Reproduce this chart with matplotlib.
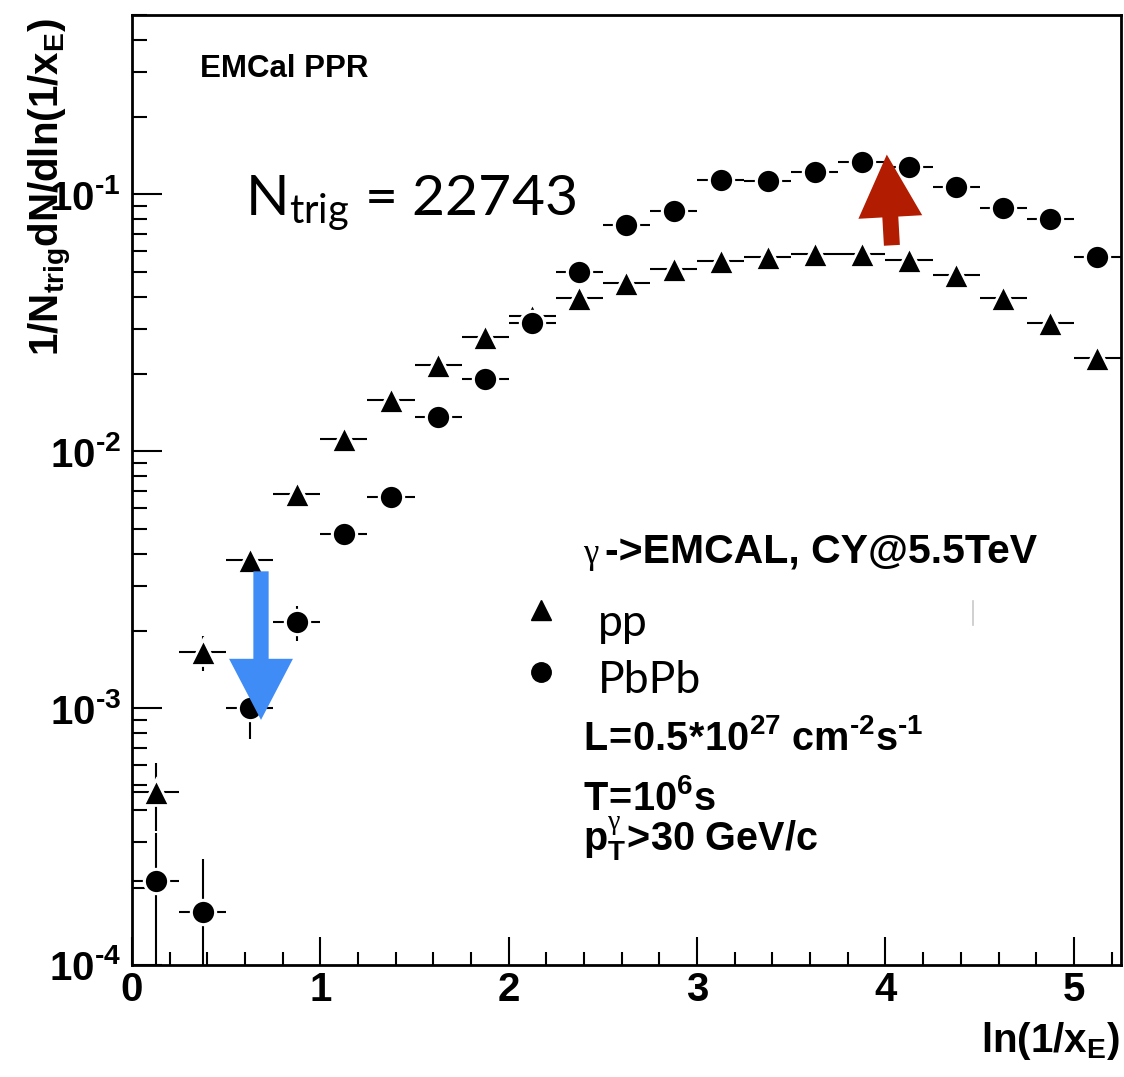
import matplotlib
matplotlib.use("Agg")
import matplotlib.pyplot as plt
from matplotlib.ticker import LogLocator, MultipleLocator, NullFormatter

plt.rcParams.update({
    "font.family": "Liberation Sans",
    "mathtext.fontset": "custom",
    "mathtext.rm": "Lato",
    "mathtext.bf": "Liberation Sans:bold",
    "mathtext.it": "Liberation Serif",
})

# bin centres in ln(1/x_E), bin width 0.25
ln_xe = [0.125, 0.375, 0.625, 0.875, 1.125, 1.375, 1.625, 1.875, 2.125, 2.375,
         2.625, 2.875, 3.125, 3.375, 3.625, 3.875, 4.125, 4.375, 4.625, 4.875, 5.125]
bin_half_width = 0.125

# 1/N_trig dN/dln(1/x_E) for pp
pp_vals = [4.71e-4, 1.65e-3, 3.77e-3, 6.8e-3, 1.12e-2, 1.59e-2, 2.16e-2, 2.78e-2,
           3.35e-2, 3.94e-2, 4.51e-2, 5.11e-2, 5.53e-2, 5.69e-2, 5.89e-2, 5.89e-2,
           5.58e-2, 4.84e-2, 3.97e-2, 3.15e-2, 2.30e-2]
pp_errs = [1.4e-4, 2.6e-4, 2.4e-4, 3.2e-4, 4.8e-4, 5.7e-4, 6.6e-4, 7.5e-4,
           8.2e-4, 8.9e-4, 9.5e-4, 1.0e-3, 1.05e-3, 1.07e-3, 1.09e-3, 1.09e-3,
           1.06e-3, 9.9e-4, 9.0e-4, 8.0e-4, 6.8e-4]

# same for PbPb
pbpb_vals = [2.12e-4, 1.61e-4, 1.0e-3, 2.16e-3, 4.75e-3, 6.62e-3, 1.355e-2, 1.92e-2,
             3.15e-2, 4.98e-2, 7.64e-2, 8.59e-2, 0.1143, 0.1124, 0.122, 0.1333,
             0.1285, 0.1074, 0.0882, 0.080, 0.0569]
pbpb_errs = [1.15e-4, 0.97e-4, 0.24e-3, 0.33e-3, 0.52e-3, 0.5e-3, 0.7e-3, 0.8e-3,
             1.0e-3, 1.2e-3, 1.5e-3, 1.6e-3, 1.9e-3, 1.9e-3, 2.0e-3, 2.1e-3,
             2.1e-3, 1.9e-3, 1.7e-3, 1.6e-3, 1.4e-3]

x_ticks = [0, 1, 2, 3, 4, 5]
x_tick_labels = ["0", "1", "2", "3", "4", "5"]
y_ticks = [1e-4, 1e-3, 1e-2, 1e-1]
# short hyphen (U+2010) instead of the long math minus
y_tick_labels = [r"$\mathbf{10^{‐4}}$", r"$\mathbf{10^{‐3}}$",
                 r"$\mathbf{10^{‐2}}$", r"$\mathbf{10^{‐1}}$"]

fig = plt.figure(figsize=(11.24, 10.77), dpi=100)
ax = fig.add_axes([0.1174, 0.1040, 0.8799, 0.8821])
ax.set_yscale("log")
ax.set_xlim(0, 5.25)
ax.set_ylim(1e-4, 0.5)

# pp: triangles, drawn first so the PbPb circles sit on top
ax.errorbar(ln_xe, pp_vals, xerr=bin_half_width, yerr=pp_errs, fmt="none",
            ecolor="black", elinewidth=1.5, capsize=0, zorder=2)
ax.plot(ln_xe, pp_vals, ls="none", marker="^", ms=18.5, mfc="black",
        mec="white", mew=2.0, zorder=3)
ax.errorbar(ln_xe, pbpb_vals, xerr=bin_half_width, yerr=pbpb_errs, fmt="none",
            ecolor="black", elinewidth=1.5, capsize=0, zorder=4)
ax.plot(ln_xe, pbpb_vals, ls="none", marker="o", ms=17.5, mfc="black",
        mec="white", mew=2.2, zorder=5)

# axes styling (ROOT-like: inward ticks, bold labels)
ax.set_xticks(x_ticks, x_tick_labels, fontsize=29, fontweight="bold")
ax.xaxis.set_minor_locator(MultipleLocator(0.2))
ax.set_yticks(y_ticks, y_tick_labels, fontsize=29)
ax.yaxis.set_minor_locator(LogLocator(base=10, subs=range(2, 10)))
ax.yaxis.set_minor_formatter(NullFormatter())
ax.tick_params(which="both", direction="in", width=1.5, top=False, right=False)
ax.tick_params(axis="x", which="major", length=20, pad=4)
ax.tick_params(axis="x", which="minor", length=9.5)
ax.tick_params(axis="y", which="major", length=21.5, pad=8)
ax.tick_params(axis="y", which="minor", length=11)
for sp in ax.spines.values():
    sp.set_linewidth(2.0)

fig.text(0.0445, 0.983, r"$\mathbf{1/N_{trig}dN/dln(1/x_{E})}$", rotation=90,
         ha="center", va="top", fontsize=29)
fig.text(0.9964, 0.0529, r"$\mathbf{ln(1/x_{E})}$", ha="right", va="top",
         fontsize=29)

# annotations
ax.text(0.0688, 0.9347, "EMCal PPR", transform=ax.transAxes, fontsize=22.5,
        fontweight="bold", va="baseline")
ax.text(0.1143, 0.7895, r"$\mathrm{N_{trig}}$ = 22743", transform=ax.transAxes,
        fontsize=41, family="Lato", va="baseline")

ax.text(0.456, 0.4232, "γ", transform=ax.transAxes, fontsize=25,
        family="Liberation Serif", va="baseline")
ax.text(0.478, 0.4232, "->EMCAL, CY@5.5TeV", transform=ax.transAxes, fontsize=29.5,
        fontweight="bold", va="baseline")

ax.plot([0.4136], [0.3737], transform=ax.transAxes, ls="none", marker="^",
        ms=14, color="black", clip_on=False)
ax.plot([0.4136], [0.3084], transform=ax.transAxes, ls="none", marker="o",
        ms=14, color="black", clip_on=False)
ax.text(0.4712, 0.3463, "pp", transform=ax.transAxes, fontsize=32,
        family="Lato", va="baseline")
ax.text(0.4712, 0.2863, "PbPb", transform=ax.transAxes, fontsize=32,
        family="Lato", va="baseline")
ax.plot([0.850, 0.850], [0.358, 0.383], transform=ax.transAxes,
        color="#c8c8c8", lw=1.2)

ax.text(0.456, 0.2263, r"$\mathbf{L\!=\!0.5\!*\!10^{27}\ cm^{‐2}s^{‐1}}$",
        transform=ax.transAxes, fontsize=28.5, va="baseline")
ax.text(0.456, 0.1632, r"$\mathbf{T\!=\!10^{6}s}$", transform=ax.transAxes,
        fontsize=28.5, va="baseline")
ax.text(0.456, 0.1195, r"$\mathbf{p}_{\mathbf{T}}^{\gamma}\mathbf{\!>\!30\ GeV/c}$",
        transform=ax.transAxes, fontsize=28.5, va="baseline")

# arrows marking the pp -> PbPb change
ax.annotate("", xy=(0.685, 9.0e-4), xytext=(0.685, 3.41e-3),
            arrowprops=dict(facecolor="#3F8CF7", edgecolor="none", width=11,
                            headwidth=46, headlength=44, shrink=0), zorder=10)
ax.annotate("", xy=(4.007, 0.143), xytext=(4.034, 0.0634),
            arrowprops=dict(facecolor="#B21C00", edgecolor="none", width=11.5,
                            headwidth=46, headlength=45, shrink=0), zorder=10)

fig.savefig("out.png", dpi=100)
